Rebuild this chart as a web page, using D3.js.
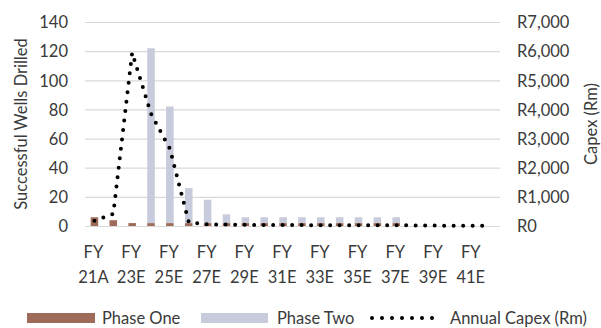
<!DOCTYPE html>
<html>
<head>
<meta charset="utf-8">
<script src="https://cdn.jsdelivr.net/npm/d3@7"></script>
<style>
  body { margin: 0; background: #fff; }
  text { font-family: Lato, sans-serif; fill: #3a3a3a; }
</style>
</head>
<body>
<svg id="chart" width="601" height="328"></svg>
<script>
// values
const years = ['FY21A','FY22E','FY23E','FY24E','FY25E','FY26E','FY27E','FY28E','FY29E','FY30E','FY31E',
    'FY32E','FY33E','FY34E','FY35E','FY36E','FY37E','FY38E','FY39E','FY40E','FY41E','FY42E']
const shownYears = ['FY21A','FY23E','FY25E','FY27E','FY29E','FY31E','FY33E','FY35E','FY37E','FY39E','FY41E']
const phaseOne = [6, 4, 2, 2, 2, 2, 2, 2, 2, 2, 2, 2, 2, 2, 2, 2, 2, 0, 0, 0, 0, 0]
const phaseTwo = [0, 0, 0, 120, 80, 24, 16, 6, 4, 4, 4, 4, 4, 4, 4, 4, 4, 0, 0, 0, 0, 0]
const annualCapex = [180, 420, 5950, 3850, 2650, 130, 60, 50, 40, 35, 35, 30, 30, 30, 30, 30, 30, 20, 15, 10, 10, 10]
const wellTicks = [0, 20, 40, 60, 80, 100, 120, 140]
const capexTicks = [0, 1000, 2000, 3000, 4000, 5000, 6000, 7000]

const config = { left: 85, right: 500, top: 22, bottom: 226 }
const colors = { phaseOne: '#9e6b58', phaseTwo: '#c8cbdb' }
const fontSize = 16.5

const svg = d3.select('#chart')

const x = d3.scaleBand()
    .domain(years)
    .range([config.left, config.right])
    .paddingInner(0.6)
    .paddingOuter(0.3)

const y = d3.scaleLinear()
    .domain([0, 140])
    .range([config.bottom, config.top])

const yCapex = d3.scaleLinear()
    .domain([0, 7000])
    .range([config.bottom, config.top])

function styleAxis(g) {
    g.attr('font-family', null).attr('font-size', null)
    g.select('.domain').remove()
    g.selectAll('text').style('font-size', fontSize + 'px').attr('dy', '0.35em')
}

// left axis + gridlines
svg.append('g')
    .attr('transform', 'translate(' + config.left + ',0)')
    .call(d3.axisLeft(y).tickValues(wellTicks).tickSize(-(config.right - config.left)).tickPadding(17))
    .call(styleAxis)
    .call(g => g.selectAll('line').attr('stroke', '#d9d9d9').attr('stroke-width', 1.2))

// right axis
svg.append('g')
    .attr('transform', 'translate(' + config.right + ',0)')
    .call(d3.axisRight(yCapex).tickValues(capexTicks).tickSize(0).tickPadding(17)
        .tickFormat(d => 'R' + d3.format(',')(d)))
    .call(styleAxis)

// bottom axis, two line labels
svg.append('g')
    .attr('transform', 'translate(0,' + config.bottom + ')')
    .call(d3.axisBottom(x).tickValues(shownYears).tickSize(0))
    .call(g => {
        g.attr('font-family', null).attr('font-size', null)
        g.select('.domain').remove()
        g.selectAll('text').each(function(d) {
            const t = d3.select(this).text('').attr('y', 0).attr('dy', null).style('font-size', fontSize + 'px')
            t.append('tspan').attr('x', -1).attr('y', 26).attr('dy', '0.35em').text('FY')
            t.append('tspan').attr('x', -1).attr('y', 51).attr('dy', '0.35em').text(d.slice(2))
        })
    })

// stacked bars
const table = years.map((yr, i) => ({ year: yr, phaseOne: phaseOne[i], phaseTwo: phaseTwo[i] }))
const stackedData = d3.stack().keys(['phaseOne', 'phaseTwo'])(table)

svg.append('g')
    .selectAll('g')
    .data(stackedData)
    .enter().append('g')
    .attr('fill', d => colors[d.key])
    .selectAll('rect')
    .data(d => d)
    .enter().append('rect')
    .attr('x', d => x(d.data.year))
    .attr('width', x.bandwidth())
    .attr('y', d => y(d[1]))
    .attr('height', d => y(d[0]) - y(d[1]))

// capex dotted line
const line = d3.line()
    .x((d, i) => x(years[i]) + x.bandwidth() / 2)
    .y(d => yCapex(d))

svg.append('path')
    .datum(annualCapex)
    .attr('d', line)
    .attr('fill', 'none')
    .attr('stroke', '#000')
    .attr('stroke-width', 4)
    .attr('stroke-linecap', 'round')
    .attr('stroke-dasharray', '0,9.5')

// axis titles
svg.append('text')
    .attr('transform', 'translate(21,124) rotate(-90)')
    .attr('text-anchor', 'middle')
    .attr('dy', '0.35em')
    .style('font-size', fontSize + 'px')
    .text('Successful Wells Drilled')

svg.append('text')
    .attr('transform', 'translate(591,124) rotate(-90)')
    .attr('text-anchor', 'middle')
    .attr('dy', '0.35em')
    .style('font-size', fontSize + 'px')
    .text('Capex (Rm)')

// legend
const legendY = 318
const legend = svg.append('g')

legend.append('rect').attr('x', 27).attr('y', legendY - 5).attr('width', 68).attr('height', 10).attr('fill', colors.phaseOne)
legend.append('text').attr('x', 102).attr('y', legendY).attr('dy', '0.35em').style('font-size', fontSize + 'px').text('Phase One')

legend.append('rect').attr('x', 201).attr('y', legendY - 5).attr('width', 67).attr('height', 10).attr('fill', colors.phaseTwo)
legend.append('text').attr('x', 277).attr('y', legendY).attr('dy', '0.35em').style('font-size', fontSize + 'px').text('Phase Two')

legend.append('line')
    .attr('x1', 372).attr('x2', 434).attr('y1', legendY).attr('y2', legendY)
    .attr('stroke', '#000').attr('stroke-width', 4)
    .attr('stroke-linecap', 'round').attr('stroke-dasharray', '0,10')
legend.append('text').attr('x', 450).attr('y', legendY).attr('dy', '0.35em').style('font-size', fontSize + 'px').text('Annual Capex (Rm)')
</script>
</body>
</html>
